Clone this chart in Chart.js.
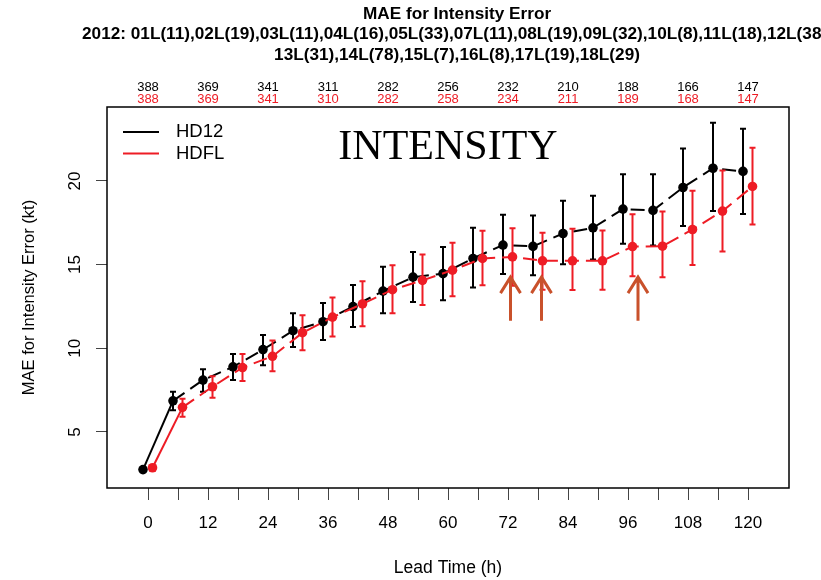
<!DOCTYPE html>
<html>
<head>
<meta charset="utf-8">
<script src="https://cdn.jsdelivr.net/npm/chart.js@4/dist/chart.umd.min.js"></script>
<style>
  html, body { margin: 0; padding: 0; background: #fff; }
</style>
</head>
<body>
<canvas id="grafico" width="821" height="580"></canvas>
<script>
// Dados
const leadTimes = [0, 6, 12, 18, 24, 30, 36, 42, 48, 54, 60, 66, 72, 78, 84, 90, 96, 102, 108, 114, 120];
const hd12Mae = [2.75, 6.86, 8.10, 8.89, 9.92, 11.05, 11.59, 12.49, 13.42, 14.25, 14.46, 15.37, 16.17, 16.09, 16.86, 17.20, 18.32, 18.24, 19.61, 20.76, 20.57];
const hd12Inf = [2.60, 6.29, 7.40, 8.11, 8.99, 10.08, 10.50, 11.27, 12.10, 12.77, 12.87, 13.64, 14.44, 14.36, 15.02, 15.30, 16.25, 16.15, 17.31, 18.21, 18.03];
const hd12Sup = [2.90, 7.40, 8.75, 9.66, 10.79, 12.09, 12.71, 13.78, 14.87, 15.76, 16.05, 17.20, 17.98, 17.94, 18.82, 19.12, 20.40, 20.40, 21.94, 23.48, 23.12];
const hdflMae = [2.86, 6.47, 7.70, 8.85, 9.52, 10.93, 11.86, 12.65, 13.50, 14.06, 14.67, 15.37, 15.46, 15.23, 15.23, 15.23, 16.08, 16.10, 17.10, 18.20, 19.67];
const hdflInf = [2.70, 5.91, 7.04, 8.04, 8.63, 9.88, 10.71, 11.31, 12.10, 12.59, 13.11, 13.76, 13.74, 13.50, 13.48, 13.50, 14.30, 14.24, 14.97, 15.78, 17.40];
const hdflSup = [3.00, 6.98, 8.33, 9.66, 10.46, 11.97, 13.03, 14.00, 14.96, 15.61, 16.31, 17.03, 17.18, 16.91, 17.14, 17.04, 18.01, 18.17, 19.42, 20.62, 21.98];

const rotulosX = [0, 12, 24, 36, 48, 60, 72, 84, 96, 108, 120];
const casosHd12 = [388, 369, 341, 311, 282, 256, 232, 210, 188, 166, 147];
const casosHdfl = [388, 369, 341, 310, 282, 258, 234, 211, 189, 168, 147];
const ticksY = [5, 10, 15, 20];

const setasX = [72.5, 78.7, 98];
const setaTopo = 14.25;
const setaBase = 11.65;

const tituloLinhas = [
  "MAE for Intensity Error",
  "2012: 01L(11),02L(19),03L(11),04L(16),05L(33),07L(11),08L(19),09L(32),10L(8),11L(18),12L(38),",
  "13L(31),14L(78),15L(7),16L(8),17L(19),18L(29)"
];

const PRETO = "#000000";
const VERMELHO = "#ee1c25";
const SETA = "#c9512b";

Chart.defaults.font.family = '"Liberation Sans", Arial, Helvetica, sans-serif';
Chart.defaults.color = "#000";

function serie(valores, desloc) {
  return valores.map((v, i) => ({ x: leadTimes[i] + desloc, y: v }));
}

// barras de erro desenhadas antes de cada série
const barrasErro = {
  id: "barrasErro",
  beforeDatasetDraw(chart, args) {
    const ds = chart.data.datasets[args.index];
    const { ctx, scales: { x, y } } = chart;
    ctx.save();
    ctx.strokeStyle = ds.borderColor;
    ctx.lineWidth = 2;
    ds.erroInf.forEach((lo, i) => {
      const px = x.getPixelForValue(ds.data[i].x);
      const yl = y.getPixelForValue(lo);
      const yh = y.getPixelForValue(ds.erroSup[i]);
      ctx.beginPath();
      ctx.moveTo(px, yl); ctx.lineTo(px, yh);
      ctx.moveTo(px - 3, yl); ctx.lineTo(px + 3, yl);
      ctx.moveTo(px - 3, yh); ctx.lineTo(px + 3, yh);
      ctx.stroke();
    });
    ctx.restore();
  }
};

const extras = {
  id: "extras",
  afterDraw(chart) {
    const { ctx, chartArea: a, scales: { x, y } } = chart;
    ctx.save();

    // moldura
    ctx.strokeStyle = "#000";
    ctx.lineWidth = 1.5;
    ctx.strokeRect(a.left, a.top, a.right - a.left, a.bottom - a.top);

    // título
    ctx.fillStyle = "#000";
    ctx.textAlign = "center";
    ctx.textBaseline = "alphabetic";
    ctx.font = 'bold 17.2px "Liberation Sans", Arial, sans-serif';
    const cx = (a.left + a.right) / 2 + 9;
    tituloLinhas.forEach((t, i) => ctx.fillText(t, cx, 18.5 + i * 20.5));

    // INTENSITY
    ctx.font = '42px "Liberation Serif", "Times New Roman", serif';
    ctx.textBaseline = "middle";
    ctx.fillText("INTENSITY", x.getPixelForValue(60), y.getPixelForValue(22.0));

    // legenda
    ctx.textAlign = "left";
    ctx.font = '18.5px "Liberation Sans", Arial, sans-serif';
    chart.data.datasets.forEach((ds, i) => {
      const ly = a.top + 25 + i * 21.5;
      ctx.strokeStyle = ds.borderColor;
      ctx.lineWidth = 2;
      ctx.beginPath();
      ctx.moveTo(a.left + 16, ly);
      ctx.lineTo(a.left + 52, ly);
      ctx.stroke();
      ctx.fillStyle = "#000";
      ctx.fillText(ds.label, a.left + 69, ly);
    });

    // setas
    ctx.strokeStyle = SETA;
    ctx.lineWidth = 3;
    setasX.forEach(sx => {
      const px = x.getPixelForValue(sx);
      const pt = y.getPixelForValue(setaTopo);
      const pb = y.getPixelForValue(setaBase);
      ctx.beginPath();
      ctx.moveTo(px, pb); ctx.lineTo(px, pt);
      ctx.moveTo(px - 10, pt + 16); ctx.lineTo(px, pt); ctx.lineTo(px + 10, pt + 16);
      ctx.stroke();
    });
    ctx.restore();
  }
};

function eixoTopo(contagens, cor, peso, altura, pad) {
  return {
    type: "linear",
    position: "top",
    weight: peso,
    min: -8.2,
    max: 128.2,
    afterBuildTicks: s => { s.ticks = rotulosX.map(v => ({ value: v })); },
    afterFit: s => { s.height = altura; },
    grid: { display: false, drawTicks: false },
    border: { display: false },
    ticks: {
      autoSkip: false,
      padding: pad,
      color: cor,
      font: { size: 13, lineHeight: 1 },
      callback: (v, i) => String(contagens[i])
    }
  };
}

new Chart(document.getElementById("grafico"), {
  type: "line",
  data: {
    datasets: [
      {
        label: "HD12",
        data: serie(hd12Mae, -1),
        erroInf: hd12Inf,
        erroSup: hd12Sup,
        borderColor: PRETO,
        backgroundColor: PRETO,
        borderWidth: 2,
        borderDash: [14, 7],
        segment: { borderDash: c => c.p0DataIndex === 0 ? [] : [14, 7] },
        pointRadius: 4.8,
        pointBorderWidth: 0,
        pointBackgroundColor: PRETO,
        tension: 0,
        order: 1
      },
      {
        label: "HDFL",
        data: serie(hdflMae, 0.9),
        erroInf: hdflInf,
        erroSup: hdflSup,
        borderColor: VERMELHO,
        backgroundColor: VERMELHO,
        borderWidth: 2,
        borderDash: [14, 7],
        segment: { borderDash: c => c.p0DataIndex === 0 ? [] : [14, 7] },
        pointRadius: 4.8,
        pointBorderWidth: 0,
        pointBackgroundColor: VERMELHO,
        tension: 0,
        order: 0
      }
    ]
  },
  options: {
    responsive: false,
    animation: false,
    devicePixelRatio: 1,
    layout: { padding: { top: 80, right: 32, left: 0, bottom: 0 } },
    plugins: {
      legend: { display: false },
      tooltip: { enabled: false },
      title: { display: false }
    },
    scales: {
      x: {
        type: "linear",
        position: "bottom",
        min: -8.2,
        max: 128.2,
        afterBuildTicks: s => { s.ticks = leadTimes.map(v => ({ value: v })); },
        afterFit: s => { s.height = 92; },
        grid: { drawOnChartArea: false, tickLength: 12, color: "#444", tickWidth: 1 },
        border: { display: false },
        ticks: {
          autoSkip: false,
          maxRotation: 0,
          padding: 13,
          font: { size: 17 },
          color: "#000",
          callback: v => rotulosX.includes(v) ? String(v) : ""
        },
        title: {
          display: true,
          text: "Lead Time (h)",
          font: { size: 17.5 },
          color: "#000",
          padding: { top: 0, bottom: 1.5 }
        }
      },
      contagemHd12: eixoTopo(casosHd12, PRETO, 2, 14, 0.5),
      contagemHdfl: eixoTopo(casosHdfl, VERMELHO, 1, 13, 1.5),
      y: {
        min: 1.65,
        max: 24.42,
        afterBuildTicks: s => { s.ticks = ticksY.map(v => ({ value: v })); },
        afterFit: s => { s.width = 107; },
        grid: { drawOnChartArea: false, tickLength: 11, color: "#444", tickWidth: 1 },
        border: { display: false },
        ticks: {
          minRotation: 90,
          maxRotation: 90,
          crossAlign: "center",
          padding: 11.5,
          font: { size: 17 },
          color: "#000"
        },
        title: {
          display: true,
          text: "MAE for Intensity Error (kt)",
          font: { size: 16.5 },
          color: "#000",
          padding: { top: 20, bottom: 0 }
        }
      }
    }
  },
  plugins: [barrasErro, extras]
});
</script>
</body>
</html>
